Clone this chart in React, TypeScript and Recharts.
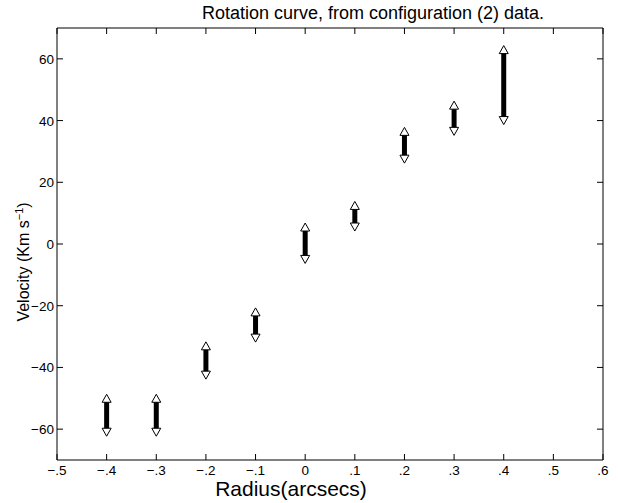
import React from "react";
import { ComposedChart, Scatter, XAxis, YAxis, ErrorBar } from "recharts";

const radius = [-0.4, -0.3, -0.2, -0.1, 0, 0.1, 0.2, 0.3, 0.4];
const velocityHigh = [-50, -50, -33, -22, 5.5, 12.5, 36.5, 45, 63];
const velocityLow = [-61, -61, -42.5, -30.5, -5, 5.5, 27.5, 36.5, 40];

const xTicks = [-0.5, -0.4, -0.3, -0.2, -0.1, 0, 0.1, 0.2, 0.3, 0.4, 0.5, 0.6];
const xTickLabels = ["\u2212.5", "\u2212.4", "\u2212.3", "\u2212.2", "\u2212.1", "0", ".1", ".2", ".3", ".4", ".5", ".6"];
const yTicks = [-60, -40, -20, 0, 20, 40, 60];
const yTickLabels = ["\u221260", "\u221240", "\u221220", "0", "20", "40", "60"];

const titleText = "Rotation curve, from configuration (2) data.";
const xLabelText = "Radius(arcsecs)";

const FONT = "'Liberation Sans', Arial, Helvetica, sans-serif";
const TICK_LEN = 6;
const TICK_FONT = 13.5;

const lookup = (ticks: number[], labels: string[], v: number) => {
  const i = ticks.findIndex((t) => Math.abs(t - v) < 1e-9);
  return i >= 0 ? labels[i] : String(v);
};

const barData = radius.map((x, i) => ({ x, y: velocityHigh[i], err: [velocityHigh[i] - velocityLow[i], 0] }));
const highData = radius.map((x, i) => ({ x, y: velocityHigh[i] }));
const lowData = radius.map((x, i) => ({ x, y: velocityLow[i] }));

const BottomTick = (props: any) => {
  const { x, y, payload } = props;
  return (
    <g>
      <line x1={x} x2={x} y1={y} y2={y - TICK_LEN} stroke="#000" strokeWidth={1} />
      <text x={x} y={y + 15} textAnchor="middle" fontSize={TICK_FONT} fontFamily={FONT} fill="#000">
        {lookup(xTicks, xTickLabels, payload.value)}
      </text>
    </g>
  );
};

const TopTick = (props: any) => {
  const { x, y } = props;
  return <line x1={x} x2={x} y1={y} y2={y + TICK_LEN} stroke="#000" strokeWidth={1} />;
};

const LeftTick = (props: any) => {
  const { x, y, payload } = props;
  return (
    <g>
      <line x1={x} x2={x + TICK_LEN} y1={y} y2={y} stroke="#000" strokeWidth={1} />
      <text x={x - 3} y={y + 5} textAnchor="end" fontSize={TICK_FONT} fontFamily={FONT} fill="#000">
        {lookup(yTicks, yTickLabels, payload.value)}
      </text>
    </g>
  );
};

const RightTick = (props: any) => {
  const { x, y } = props;
  return <line x1={x} x2={x - TICK_LEN} y1={y} y2={y} stroke="#000" strokeWidth={1} />;
};

const UpTriangle = (props: any) => {
  const { cx, cy } = props;
  if (cx == null || cy == null) return <g />;
  return (
    <polygon
      points={`${cx},${cy - 4} ${cx - 4.5},${cy + 4} ${cx + 4.5},${cy + 4}`}
      fill="#fff"
      stroke="#000"
      strokeWidth={1}
    />
  );
};

const DownTriangle = (props: any) => {
  const { cx, cy } = props;
  if (cx == null || cy == null) return <g />;
  return (
    <polygon
      points={`${cx},${cy + 4} ${cx - 4.5},${cy - 4} ${cx + 4.5},${cy - 4}`}
      fill="#fff"
      stroke="#000"
      strokeWidth={1}
    />
  );
};

const Empty = () => <g />;

export default function App() {
  return (
    <div style={{ position: "absolute", left: 0, top: 0, width: 618, height: 503, background: "#fff" }}>
      <ComposedChart width={618} height={503} margin={{ top: 0, right: 0, bottom: 0, left: 0 }}>
        <XAxis
          xAxisId="bottom"
          orientation="bottom"
          type="number"
          dataKey="x"
          domain={[-0.5, 0.6]}
          ticks={xTicks}
          interval={0}
          allowDataOverflow
          height={43}
          tickSize={0}
          tickMargin={0}
          tickLine={false}
          axisLine={{ stroke: "#000", strokeWidth: 1 }}
          tick={<BottomTick />}
        />
        <XAxis
          xAxisId="top"
          orientation="top"
          type="number"
          dataKey="x"
          domain={[-0.5, 0.6]}
          ticks={xTicks}
          interval={0}
          allowDataOverflow
          height={28}
          tickSize={0}
          tickMargin={0}
          tickLine={false}
          axisLine={{ stroke: "#000", strokeWidth: 1 }}
          tick={<TopTick />}
        />
        <YAxis
          yAxisId="left"
          orientation="left"
          type="number"
          dataKey="y"
          domain={[-70, 70]}
          ticks={yTicks}
          interval={0}
          allowDataOverflow
          width={57}
          tickSize={0}
          tickMargin={0}
          tickLine={false}
          axisLine={{ stroke: "#000", strokeWidth: 1 }}
          tick={<LeftTick />}
        />
        <YAxis
          yAxisId="right"
          orientation="right"
          type="number"
          dataKey="y"
          domain={[-70, 70]}
          ticks={yTicks}
          interval={0}
          allowDataOverflow
          width={15}
          tickSize={0}
          tickMargin={0}
          tickLine={false}
          axisLine={{ stroke: "#000", strokeWidth: 1 }}
          tick={<RightTick />}
        />
        <Scatter
          xAxisId="top"
          yAxisId="right"
          data={highData}
          shape={<Empty />}
          isAnimationActive={false}
          legendType="none"
        />
        <Scatter
          xAxisId="bottom"
          yAxisId="left"
          data={barData}
          shape={<Empty />}
          isAnimationActive={false}
        >
          <ErrorBar dataKey="err" direction="y" width={0} strokeWidth={5} stroke="#000" isAnimationActive={false} />
        </Scatter>
        <Scatter
          xAxisId="bottom"
          yAxisId="left"
          data={highData}
          shape={<UpTriangle />}
          isAnimationActive={false}
        />
        <Scatter
          xAxisId="bottom"
          yAxisId="left"
          data={lowData}
          shape={<DownTriangle />}
          isAnimationActive={false}
        />
      </ComposedChart>
      <svg
        width={618}
        height={503}
        style={{ position: "absolute", left: 0, top: 0, pointerEvents: "none" }}
      >
        <text x={373} y={19} textAnchor="middle" fontSize={18} fontFamily={FONT} fill="#000">
          {titleText}
        </text>
        <text x={291} y={496} textAnchor="middle" fontSize={21} fontFamily={FONT} fill="#000">
          {xLabelText}
        </text>
        <text
          x={0}
          y={0}
          transform="translate(29, 262) rotate(-90)"
          textAnchor="middle"
          fontSize={16}
          fontFamily={FONT}
          fill="#000"
        >
          Velocity (Km s<tspan baselineShift="super" fontSize={11}>{"\u22121"}</tspan>)
        </text>
      </svg>
    </div>
  );
}
